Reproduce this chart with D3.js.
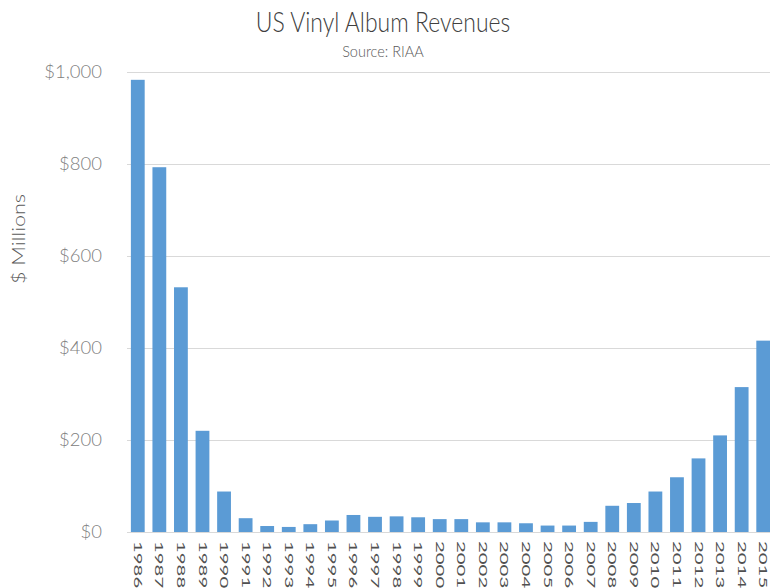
<!DOCTYPE html>
<html>
<head>
<meta charset="utf-8">
<script src="https://cdn.jsdelivr.net/npm/d3@7"></script>
<style>
  body { margin: 0; background: #fff; }
  svg text { font-family: Lato, "Open Sans", sans-serif; fill: #595959; font-weight: 300; }
</style>
</head>
<body>
<svg width="770" height="588"></svg>
<script>
var years = ["1986","1987","1988","1989","1990","1991","1992","1993","1994","1995",
  "1996","1997","1998","1999","2000","2001","2002","2003","2004","2005",
  "2006","2007","2008","2009","2010","2011","2012","2013","2014","2015"];
var revenues = [983, 793, 532, 220, 88, 30, 13, 11, 17, 25,
  37, 33, 34, 32, 28, 28, 21, 21, 19, 14,
  14, 22, 57, 63, 88, 119, 160, 210, 315, 416];
var yTicks = [0, 200, 400, 600, 800, 1000];

var svg = d3.select("svg");
var plotLeft = 127, plotRight = 774, plotTop = 72, plotBottom = 532;

var x = d3.scaleBand().domain(years).range([plotLeft, plotRight])
  .paddingInner(0.36).paddingOuter(0.18);
var y = d3.scaleLinear().domain([0, 1000]).range([plotBottom, plotTop]);

// gridlines
svg.append("g").selectAll("line")
  .data(yTicks)
  .enter()
  .append("line")
  .attr("x1", plotLeft)
  .attr("x2", 770)
  .attr("y1", function (d) { return y(d) + 0.5; })
  .attr("y2", function (d) { return y(d) + 0.5; })
  .style("stroke", "#d9d9d9")
  .style("stroke-width", 1);

// y labels
var fmt = d3.format("$,");
svg.append("g").selectAll("text")
  .data(yTicks)
  .enter()
  .append("text")
  .attr("x", 102)
  .attr("y", function (d) { return y(d); })
  .attr("dy", "0.35em")
  .style("text-anchor", "end")
  .style("font-size", "18.5px")
  .style("fill", "#808080")
  .text(function (d) { return fmt(d); });

// bars
svg.append("g").selectAll("rect")
  .data(revenues)
  .enter()
  .append("rect")
  .attr("x", function (d, i) { return x(years[i]); })
  .attr("width", x.bandwidth())
  .attr("y", function (d) { return y(d); })
  .attr("height", function (d) { return y(0) - y(d); })
  .style("fill", "#5b9bd5");

// x labels (tall, narrow glyphs)
svg.append("g").selectAll("text")
  .data(years)
  .enter()
  .append("text")
  .attr("transform", function (d) {
    return "translate(" + (x(d) + x.bandwidth() / 2) + ",541) rotate(90) scale(1.85,1)";
  })
  .attr("dy", "0.36em")
  .style("text-anchor", "start")
  .style("font-size", "11px")
  .style("font-weight", 400)
  .style("fill", "#505050")
  .text(function (d) { return d; });

// titles
svg.append("text")
  .attr("transform", "translate(383,32) scale(1,1.2)")
  .style("text-anchor", "middle")
  .style("font-size", "23px")
  .style("fill", "#404040")
  .text("US Vinyl Album Revenues");

svg.append("text")
  .attr("transform", "translate(383,57) scale(1,1.1)")
  .style("text-anchor", "middle")
  .style("font-size", "14.5px")
  .style("fill", "#595959")
  .text("Source: RIAA");

svg.append("text")
  .attr("transform", "translate(25,239) rotate(-90) scale(1.2,1)")
  .style("text-anchor", "middle")
  .style("font-size", "18px")
  .style("fill", "#595959")
  .text("$ Millions");
</script>
</body>
</html>
